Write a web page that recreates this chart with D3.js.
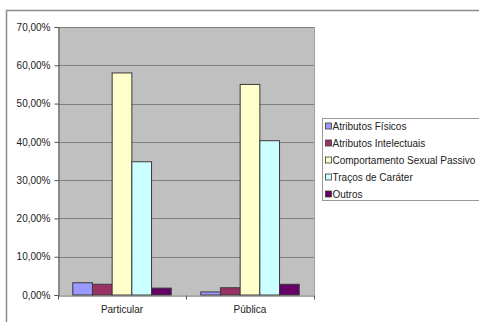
<!DOCTYPE html>
<html lang="pt">
<head>
<meta charset="UTF-8">
<title>Gráfico</title>
<script src="https://d3js.org/d3.v7.min.js"></script>
<style>
  body { margin: 0; background: #fff; }
  svg { display: block; font-family: "Liberation Sans", Arial, sans-serif; }
</style>
</head>
<body>
<svg id="chart" width="479" height="322"></svg>
<script>
(function () {
  'use strict';

  // data
  const categories = ["Particular", "Pública"];
  const seriesNames = ["Atributos Físicos", "Atributos Intelectuais", "Comportamento Sexual Passivo", "Traços de Caráter", "Outros"];
  const seriesColors = ["#9999ff", "#993366", "#ffffcc", "#ccffff", "#660066"];
  const particularValues = [3.2, 2.8, 58.0, 34.8, 1.8];
  const publicaValues = [0.8, 1.9, 55.0, 40.3, 2.8];
  const yTicks = [0, 10, 20, 30, 40, 50, 60, 70];

  const valuesByCat = [particularValues, publicaValues];

  const svg = d3.select('#chart');
  const W = 479, H = 322;

  // chart area border
  svg.append("rect")
    .attr("x", 6.5).attr("y", 10.5)
    .attr("width", W + 10).attr("height", H + 10)
    .attr("fill", "#fff").attr("stroke", "#8c8c8c").attr("stroke-width", 1.5);

  const plot = { left: 58, right: 314, top: 27, bottom: 295 };

  const x = d3.scaleBand().domain(categories).range([plot.left, plot.right]);
  const y = d3.scaleLinear().domain([0, 70]).range([plot.bottom, plot.top]);

  // bars: 5 bars + gap of 1.5 bars per category
  const barW = x.bandwidth() / 6.5;
  const xs = d3.scaleBand().domain(seriesNames)
    .range([0, barW * 5]).padding(0);

  const g = svg.append("g");

  g.append("rect")
    .attr("x", plot.left).attr("y", plot.top)
    .attr("width", plot.right - plot.left).attr("height", plot.bottom - plot.top)
    .attr("fill", "#c0c0c0");

  // gridlines
  g.selectAll("line.grid")
    .data(yTicks.slice(1))
    .join("line")
    .attr("class", "grid")
    .attr("x1", plot.left).attr("x2", plot.right)
    .attr("y1", d => Math.round(y(d)) + 0.5).attr("y2", d => Math.round(y(d)) + 0.5)
    .attr("stroke", "#7f7f7f").attr("stroke-width", 1);

  // right border of plot area
  g.append("line")
    .attr("x1", plot.right + 0.5).attr("x2", plot.right + 0.5)
    .attr("y1", plot.top).attr("y2", plot.bottom)
    .attr("stroke", "#a0a0a0");

  // bars
  categories.forEach((cat, ci) => {
    const x0 = x(cat) + (x.bandwidth() - barW * 5) / 2;
    g.append("g")
      .selectAll("rect")
      .data(valuesByCat[ci].map((v, i) => ({ v, name: seriesNames[i], color: seriesColors[i] })))
      .join("rect")
      .attr("x", d => x0 + xs(d.name))
      .attr("y", d => y(d.v))
      .attr("width", xs.bandwidth())
      .attr("height", d => y(0) - y(d.v))
      .attr("fill", d => d.color)
      .attr("stroke", "#3a3a3a")
      .attr("stroke-width", 1);
  });

  // y axis
  const fmt = v => d3.format(".2f")(v).replace(".", ",") + "%";
  const yAxis = d3.axisLeft(y).tickValues(yTicks).tickSize(4).tickPadding(4).tickFormat(fmt);
  const ya = svg.append("g")
    .attr("transform", `translate(${plot.left + 0.5},0)`)
    .call(yAxis);
  ya.select(".domain").attr("stroke", "#555");
  ya.selectAll(".tick line").attr("stroke", "#555");
  ya.selectAll("text").attr("fill", "#222").style("font-size", "10px");

  // x axis
  const xAxis = d3.axisBottom(x).tickSize(0).tickPadding(10);
  const xa = svg.append("g")
    .attr("transform", `translate(0,${plot.bottom + 0.5})`)
    .call(xAxis);
  xa.select(".domain").attr("stroke", "#555");
  xa.selectAll("text").attr("fill", "#222").style("font-size", "10px");
  xa.selectAll("line.sep")
    .data([plot.left, x(categories[1]), plot.right])
    .join("line")
    .attr("class", "sep")
    .attr("x1", d => d + 0.5).attr("x2", d => d + 0.5)
    .attr("y1", 0).attr("y2", 4)
    .attr("stroke", "#555");

  // legend
  const lg = svg.append("g").attr("transform", "translate(322.5,118.5)");
  lg.append("rect")
    .attr("width", 200).attr("height", 82)
    .attr("fill", "#fff").attr("stroke", "#9a9a9a");
  const item = lg.selectAll("g.item")
    .data(seriesNames)
    .join("g")
    .attr("class", "item")
    .attr("transform", (d, i) => `translate(0,${7.5 + i * 17})`);
  item.append("rect")
    .attr("x", 3).attr("y", -3)
    .attr("width", 6).attr("height", 6)
    .attr("fill", (d, i) => seriesColors[i])
    .attr("stroke", "#3a3a3a").attr("stroke-width", 0.8);
  item.append("text")
    .attr("x", 10).attr("dy", "0.35em")
    .attr("fill", "#222")
    .style("font-size", "10px")
    .text(d => d);
}());
</script>
</body>
</html>
